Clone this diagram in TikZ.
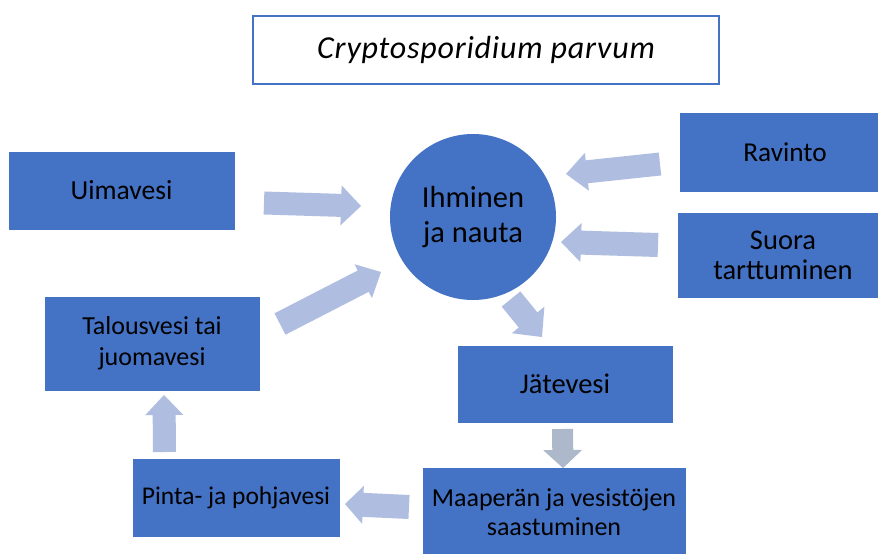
\documentclass[tikz,border=0pt]{standalone}
\usepackage{fontspec}
\setmainfont{Carlito}
\usetikzlibrary{calc}
\definecolor{boxblue}{HTML}{4472C4}
\definecolor{arrowblue}{HTML}{AFBDE0}
\definecolor{arrowgray}{HTML}{ADB9CA}
% block arrow: tail, tip, half shaft, half head, head length, colour
\newcommand{\blockarr}[6]{%
  \coordinate (bA) at #1; \coordinate (bB) at #2;
  \coordinate (bC) at ($(bB)!#5!(bA)$);
  \fill[#6] ($(bA)!#3!90:(bB)$) -- ($(bC)!#3!90:(bB)$) -- ($(bC)!#4!90:(bB)$) -- (bB)
    -- ($(bC)!#4!-90:(bB)$) -- ($(bC)!#3!-90:(bB)$) -- ($(bA)!#3!-90:(bB)$) -- cycle;}
\newcommand{\fsz}[1]{\fontsize{#1}{#1*1.12}\selectfont}
\begin{document}
\begin{tikzpicture}[x=1pt,y=-1pt,
  bx/.style={fill=boxblue, draw=boxblue, inner sep=0pt, align=center, text=black}]
\useasboundingbox (0,0) rectangle (878,554);
\clip (0,0) rectangle (878,554);
\fill[white] (0,0) rectangle (878,554);

\node[draw=boxblue, line width=1.5pt, fill=white, minimum width=466pt, minimum height=68pt,
  font=\fontsize{32}{36}\selectfont\itshape\addfontfeature{LetterSpace=2.5}] (title) at (486,50) {Cryptosporidium parvum};

\node[bx, minimum width=225pt, minimum height=77pt, font=\fontsize{27.6}{31}\selectfont] (uima) at (121.5,190.5) {Uimavesi};
\node[bx, minimum width=210pt, minimum height=78pt, font=\fontsize{27.3}{31}\selectfont] (ravinto) at (785,152) {Ravinto};
\node[bx, minimum width=210pt, minimum height=84pt, font=\fontsize{28.5}{30}\selectfont] (suora) at (783,255) {Suora\\tarttuminen};
\node[bx, minimum width=214pt, minimum height=93pt, font=\fontsize{26}{31}\selectfont] (talous) at (152,343.5) {Talousvesi tai\\juomavesi};
\node[bx, minimum width=214pt, minimum height=76pt, font=\fontsize{28.5}{31}\selectfont] (jate) at (565,384) {Jätevesi};
\node[bx, minimum width=206pt, minimum height=77pt, font=\fontsize{25.5}{31}\selectfont] (pinta) at (236,497.5) {Pinta- ja pohjavesi};
\node[bx, minimum width=262pt, minimum height=88pt, font=\fontsize{26}{29}\selectfont] (maa) at (554,512) {Maaperän ja vesistöjen\\saastuminen};

\node[circle, fill=boxblue, minimum size=166pt, inner sep=0pt, align=center,
  font=\fontsize{30.5}{35}\selectfont, text=black] (hum) at (473,217) {Ihminen\\ja nauta};

\blockarr{(264,203)}{(361,206)}{11.5pt}{20pt}{20pt}{arrowblue}
\blockarr{(660,164)}{(566,174)}{11.5pt}{19pt}{21pt}{arrowblue}
\blockarr{(658,245)}{(561,242)}{12pt}{19.5pt}{20pt}{arrowblue}
\blockarr{(280,324)}{(381,272)}{12pt}{19pt}{20pt}{arrowblue}
\blockarr{(511,299)}{(542,337)}{12pt}{21pt}{22pt}{arrowblue}
\blockarr{(562.5,429)}{(563,468)}{10.5pt}{19.5pt}{18pt}{arrowgray}
\blockarr{(409,507)}{(345,504)}{12pt}{19pt}{18pt}{arrowblue}
\blockarr{(164.5,452)}{(164,395)}{11.5pt}{19pt}{20pt}{arrowblue}
\end{tikzpicture}
\end{document}
